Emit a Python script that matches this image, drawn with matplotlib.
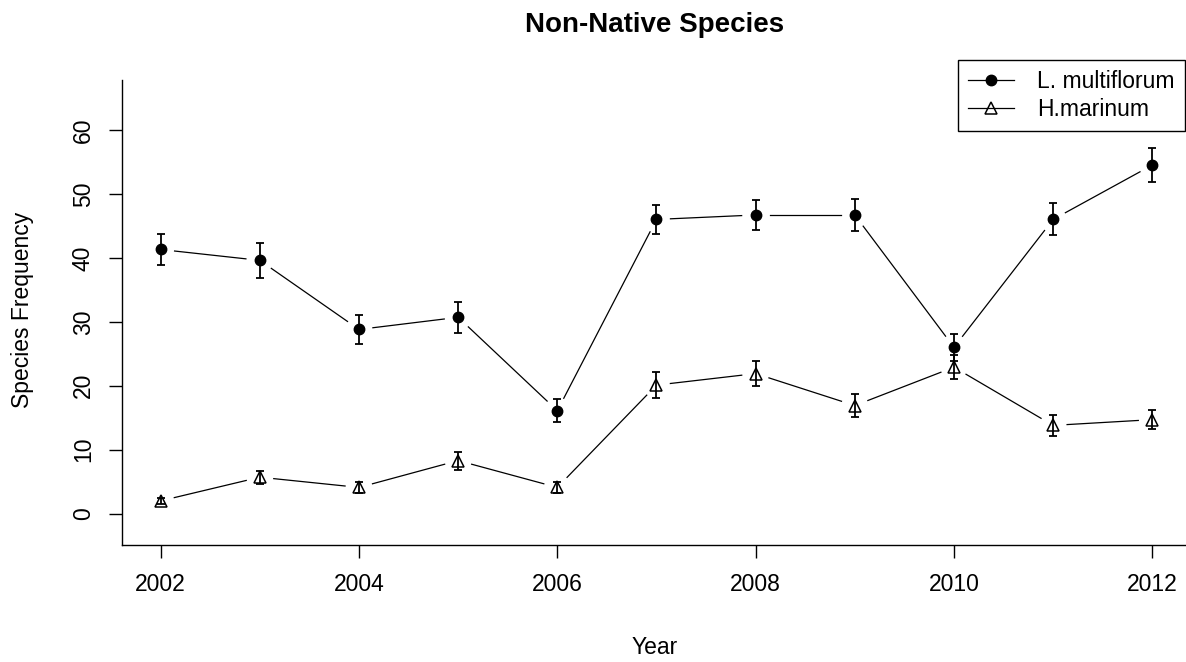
import matplotlib
matplotlib.use("Agg")
import matplotlib.pyplot as plt
import numpy as np
from matplotlib.lines import Line2D

plt.rcParams['font.family'] = ['Liberation Sans', 'DejaVu Sans']

years = [2002, 2003, 2004, 2005, 2006, 2007, 2008, 2009, 2010, 2011, 2012]
lm_mean = [41.3, 39.6, 28.8, 30.7, 16.1, 46.0, 46.7, 46.7, 26.0, 46.0, 54.5]
lm_se = [2.5, 2.7, 2.2, 2.4, 1.8, 2.3, 2.4, 2.5, 2.1, 2.5, 2.6]
hm_mean = [2.0, 5.7, 4.1, 8.3, 4.1, 20.1, 21.9, 16.9, 22.9, 13.8, 14.7]
hm_se = [0.5, 1.0, 0.8, 1.4, 0.8, 2.0, 2.0, 1.8, 1.9, 1.6, 1.5]
series_labels = ["L. multiflorum", "H.marinum"]
x_ticks = [2002, 2004, 2006, 2008, 2010, 2012]
y_ticks = [0, 10, 20, 30, 40, 50, 60]

W, H = 1186, 662
FS = 16.5
fig = plt.figure(figsize=(W / 100, H / 100), dpi=100)
ax = fig.add_axes([122 / W, 1 - 545 / H, (1185 - 122) / W, (545 - 80) / H])
ax.set_xlim(2001.61, 2012.33)
ax.set_ylim(-4.9, 67.8)

for s in ['top', 'right']:
    ax.spines[s].set_visible(False)
for s in ['left', 'bottom']:
    ax.spines[s].set_linewidth(1.0)

ax.set_xticks(x_ticks)
ax.set_yticks(y_ticks)
ax.tick_params(axis='both', direction='out', length=9.5, width=1.0, labelsize=FS, colors='black')
ax.tick_params(axis='x', pad=11)
ax.tick_params(axis='y', pad=10)
for lab in ax.get_yticklabels():
    lab.set_rotation(90)
    lab.set_va('center')

fig.canvas.draw()
trans = ax.transData
inv = trans.inverted()


def gapped_line(xs, ys, gap_px):
    pts = trans.transform(np.column_stack([xs, ys]))
    for i in range(len(pts) - 1):
        p0, p1 = pts[i], pts[i + 1]
        d = p1 - p0
        L = np.hypot(*d)
        if L <= 2 * gap_px:
            continue
        u = d / L
        a = inv.transform(p0 + u * gap_px)
        b = inv.transform(p1 - u * gap_px)
        ax.add_line(Line2D([a[0], b[0]], [a[1], b[1]], color='black', lw=0.9))


gapped_line(years, lm_mean, 14)
gapped_line(years, hm_mean, 14)

ax.errorbar(years, lm_mean, yerr=lm_se, fmt='none', ecolor='black', elinewidth=1.3, capsize=3.2, capthick=1.3)
ax.errorbar(years, hm_mean, yerr=hm_se, fmt='none', ecolor='black', elinewidth=1.3, capsize=3.2, capthick=1.3)
ax.plot(years, lm_mean, ls='none', marker='o', ms=7.5, color='black')
ax.plot(years, hm_mean, ls='none', marker='^', ms=9, mfc='none', mec='black', mew=1.1)

h1 = Line2D([], [], color='black', lw=0.9, marker='o', ms=7.5)
h2 = Line2D([], [], color='black', lw=0.9, marker='^', ms=9, mfc='none', mew=1.1)
leg = fig.legend([h1, h2], series_labels, loc='upper right',
                 bbox_to_anchor=(1185 / W, 1 - 60 / H), fontsize=FS,
                 frameon=True, fancybox=False, framealpha=1, edgecolor='black',
                 handlelength=2.0, handletextpad=1.0, borderpad=0.45, labelspacing=0.2,
                 borderaxespad=0)
leg.get_frame().set_linewidth(1.0)

fig.text(655 / W, 1 - 25 / H, "Non-Native Species", ha='center', va='center', fontsize=20, fontweight='bold')
fig.text(655 / W, 1 - 647 / H, "Year", ha='center', va='center', fontsize=FS)
fig.text(23 / W, 1 - 310 / H, "Species Frequency", ha='center', va='center', fontsize=FS, rotation=90)

fig.savefig("out.png", dpi=100)
